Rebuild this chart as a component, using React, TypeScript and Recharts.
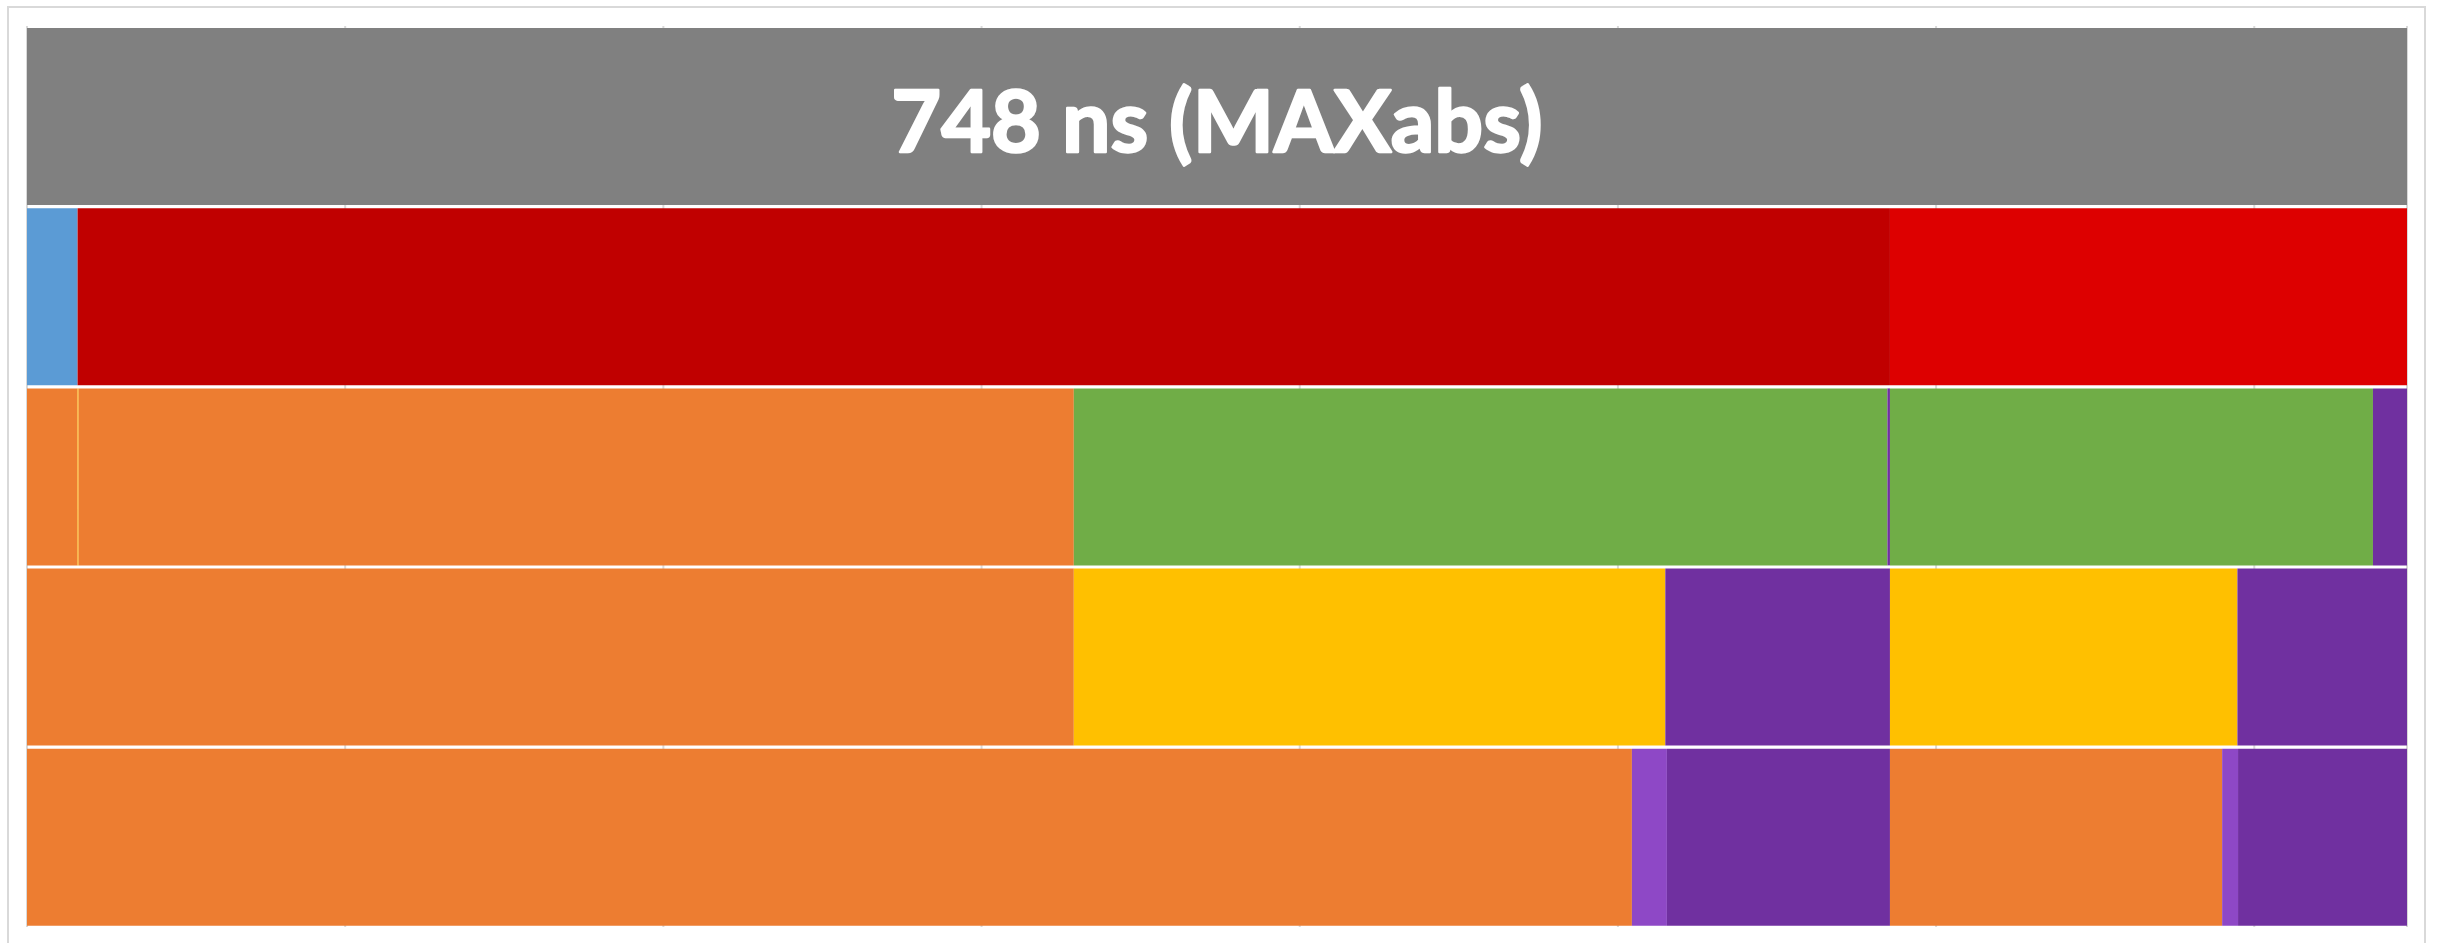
import React from "react";
import { Bar, BarChart, CartesianGrid, Cell, LabelList, XAxis, YAxis } from "recharts";

// rows top to bottom, widths in ns of each stacked piece
const rowNames = ["title", "run1", "run2", "run3", "run4"];
const titleText = "748 ns (MAXabs)";
const titleRow = [748];
const run1 = [15.9, 569.6, 162.5];
const run2 = [15.9, 0.3, 312.8, 255.7, 0.8, 151.8, 10.7];
const run3 = [329.0, 185.9, 70.6, 109.2, 53.3];
const run4 = [504.4, 11.0, 70.1, 104.4, 5.0, 53.1];
const xTicks = [0, 100, 200, 300, 400, 500, 600, 700];

const GRAY = "#808080";
const BLUE = "#5B9BD5";
const DARK_RED = "#C00000";
const RED = "#DD0000";
const ORANGE = "#ED7D31";
const YELLOW = "#FFC000";
const GREEN = "#70AD47";
const PURPLE = "#7030A0";
const LILAC = "#8E48C6";

const titleColors = [GRAY];
const run1Colors = [BLUE, DARK_RED, RED];
const run2Colors = [ORANGE, YELLOW, ORANGE, GREEN, PURPLE, GREEN, PURPLE];
const run3Colors = [ORANGE, YELLOW, PURPLE, YELLOW, PURPLE];
const run4Colors = [ORANGE, LILAC, PURPLE, ORANGE, LILAC, PURPLE];

const rows = [titleRow, run1, run2, run3, run4];
const rowColors = [titleColors, run1Colors, run2Colors, run3Colors, run4Colors];
const slotCount = Math.max(...rows.map((r) => r.length));
const slots = Array.from({ length: slotCount }, (_, k) => `s${k}`);

const data = rows.map((vals, i) => {
  const item: Record<string, string | number> = {
    name: rowNames[i],
    label: i === 0 ? titleText : "",
  };
  slots.forEach((key, k) => {
    item[key] = vals[k] ?? 0;
  });
  return item;
});

const renderTitle = (props: any) => {
  const { x, y, width, height, value } = props;
  if (!value) return null;
  return (
    <text
      x={Number(x) + Number(width) / 2}
      y={Number(y) + Number(height) / 2 + 35}
      textAnchor="middle"
      fill="#ffffff"
      stroke="#ffffff"
      strokeWidth={2.5}
      strokeLinejoin="round"
      fontFamily="Lato, 'Open Sans', sans-serif"
      fontWeight={700}
      fontSize={86}
    >
      {value}
    </text>
  );
};

export default function App() {
  return (
    <div
      style={{
        position: "absolute",
        left: 7,
        top: 6,
        width: 2415,
        height: 960,
        border: "2px solid #d9d9d9",
        background: "#ffffff",
      }}
    >
      <BarChart
        width={2415}
        height={940}
        data={data}
        layout="vertical"
        barSize={177}
        margin={{ top: 18, right: 17, bottom: 21, left: 18 }}
      >
        <CartesianGrid horizontal={false} stroke="#d9d9d9" strokeWidth={2} />
        <XAxis type="number" domain={[0, 748]} ticks={xTicks} hide />
        <YAxis type="category" dataKey="name" hide />
        {slots.map((key, k) => (
          <Bar key={key} dataKey={key} stackId="a" isAnimationActive={false}>
            {data.map((_, i) => (
              <Cell key={i} fill={rowColors[i][k] ?? GRAY} />
            ))}
            {k === 0 && <LabelList dataKey="label" content={renderTitle} />}
          </Bar>
        ))}
      </BarChart>
    </div>
  );
}
